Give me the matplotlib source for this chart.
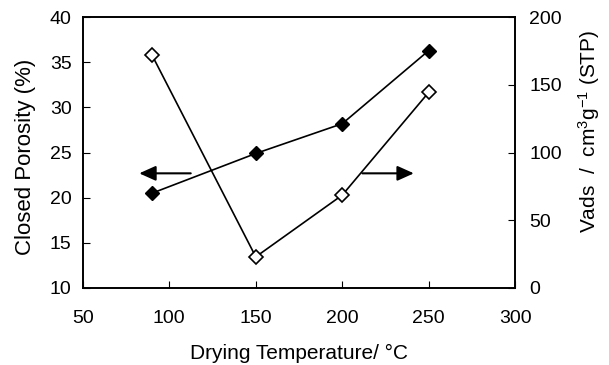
import matplotlib.pyplot as plt

plt.rcParams['font.family'] = ['Liberation Sans', 'DejaVu Sans']
plt.rcParams['mathtext.fontset'] = 'custom'
plt.rcParams['mathtext.rm'] = 'Liberation Sans'
plt.rcParams['mathtext.it'] = 'Liberation Sans'

temp = [90, 150, 200, 250]
porosity = [20.5, 24.9, 28.2, 36.3]
vads = [172, 23, 68.6, 144.5]

fig = plt.figure(figsize=(6.09, 3.65), dpi=100)
ax = fig.add_axes([0.136, 0.211, 0.71, 0.742])
ax2 = ax.twinx()

ax.plot(temp, porosity, 'k-', marker='D', markersize=7.5, mfc='black', mec='black', lw=1.2)
ax2.plot(temp, vads, 'k-', marker='D', markersize=7.5, mfc='white', mec='black', lw=1.2, mew=1.2)

ax.set_xlim(50, 300)
ax.set_ylim(10, 40)
ax2.set_ylim(0, 200)
ax.set_xticks([50, 100, 150, 200, 250, 300])
ax.set_yticks([10, 15, 20, 25, 30, 35, 40])
ax2.set_yticks([0, 50, 100, 150, 200])

for a in (ax, ax2):
    for s in a.spines.values():
        s.set_linewidth(1.2)
ax.tick_params(axis='x', direction='in', labelsize=14, length=5, pad=16)
ax.tick_params(axis='y', direction='in', labelsize=14, length=5, pad=8)
ax2.tick_params(direction='in', labelsize=14, length=5, pad=10)

ax.set_xlabel('Drying Temperature/ \u00b0C', fontsize=15, labelpad=12)
ax.set_ylabel('Closed Porosity (%)', fontsize=16, labelpad=10)
ax2.set_ylabel('Vads  /  cm$^3$g$^{-1}$ (STP)', fontsize=15, labelpad=10)
ax.yaxis.label.set_y(0.485)
ax2.yaxis.label.set_y(0.58)

# arrows pointing at the matching axis
ax.annotate('', xy=(81, 22.7), xytext=(114, 22.7),
            arrowprops=dict(arrowstyle='-|>,head_length=1.0,head_width=0.45', color='black', lw=1.5))
ax.annotate('', xy=(243, 22.7), xytext=(210, 22.7),
            arrowprops=dict(arrowstyle='-|>,head_length=1.0,head_width=0.45', color='black', lw=1.5))

fig.savefig('out.png', dpi=100)
